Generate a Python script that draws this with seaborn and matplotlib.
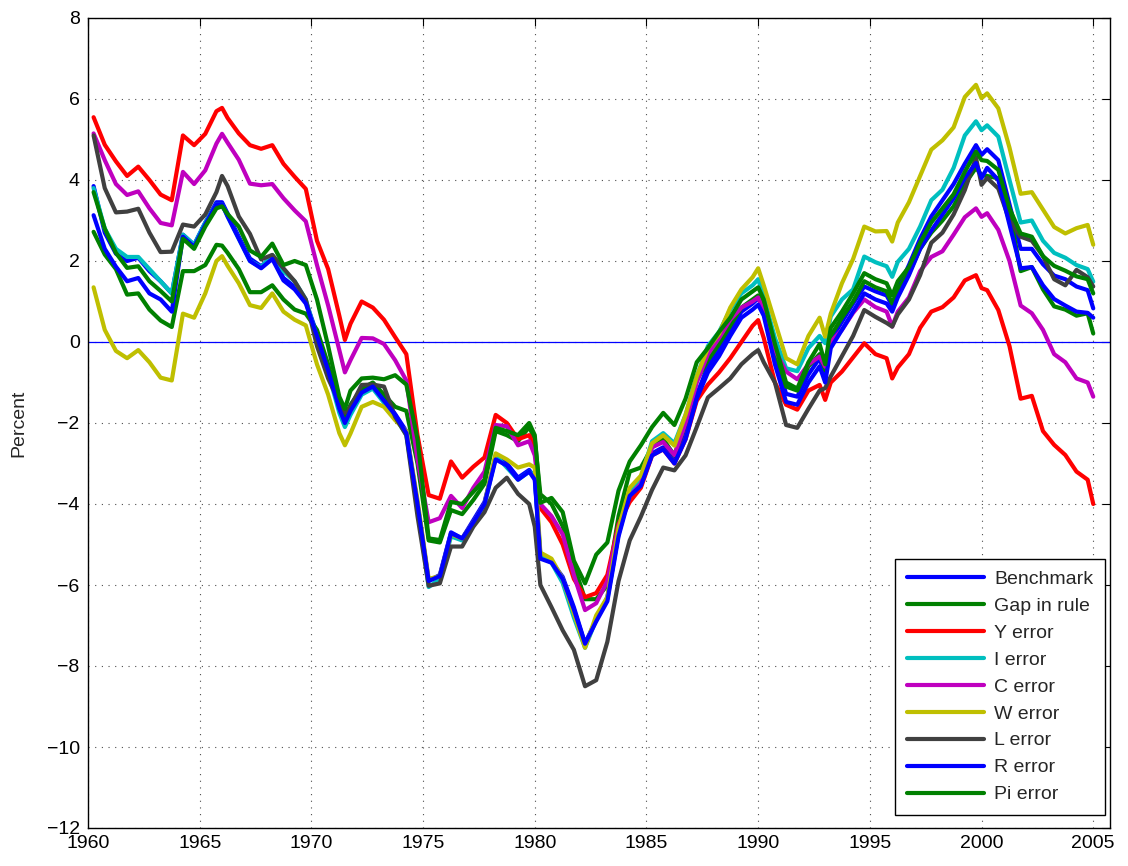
import numpy as np
import pandas as pd
import matplotlib
matplotlib.use("Agg")
import matplotlib.pyplot as plt
from matplotlib.lines import Line2D
import seaborn as sns

# Sample dates (quarterly-year fractions), by decade
YEARS_60S = [1960.25, 1960.75, 1961.25, 1961.75, 1962.25, 1962.75, 1963.25, 1963.75,
             1964.25, 1964.75, 1965.25, 1965.75, 1966.0, 1966.25, 1966.75, 1967.25,
             1967.75, 1968.25, 1968.75, 1969.25, 1969.75]
YEARS_70S = [1970.25, 1970.75, 1971.25, 1971.5, 1971.75, 1972.25, 1972.75, 1973.25,
             1973.75, 1974.25, 1974.75, 1975.25, 1975.75, 1976.25, 1976.75, 1977.25,
             1977.75, 1978.25, 1978.75, 1979.25, 1979.75]
YEARS_80S = [1980.0, 1980.25, 1980.75, 1981.25, 1981.75, 1982.25, 1982.75, 1983.25,
             1983.75, 1984.25, 1984.75, 1985.25, 1985.75, 1986.25, 1986.75, 1987.25,
             1987.75, 1988.25, 1988.75, 1989.25, 1989.75]
YEARS_90S = [1990.0, 1990.25, 1990.75, 1991.25, 1991.75, 1992.25, 1992.75, 1993.0,
             1993.25, 1993.75, 1994.25, 1994.75, 1995.25, 1995.75, 1996.0, 1996.25,
             1996.75, 1997.25, 1997.75, 1998.25, 1998.75, 1999.25, 1999.75]
YEARS_00S = [2000.0, 2000.25, 2000.75, 2001.25, 2001.75, 2002.25, 2002.75, 2003.25,
             2003.75, 2004.25, 2004.75, 2005.0]
YEARS = YEARS_60S + YEARS_70S + YEARS_80S + YEARS_90S + YEARS_00S

benchmark = [3.85, 2.7, 2.18, 2.0, 2.08, 1.75, 1.5, 1.2, 2.65, 2.4, 2.95, 3.45, 3.45, 3.17, 2.6, 2.06, 1.87, 2.1, 1.58, 1.36, 1.0,
             0.2, -0.65, -1.65, -2.0, -1.68, -1.2, -1.07, -1.4, -1.78, -2.2, -4.0, -5.9, -5.75, -4.7, -4.85, -4.4, -3.95, -2.85, -3.0, -3.35, -3.16,
             -3.35, -5.3, -5.42, -5.8, -6.55, -7.44, -6.86, -6.3, -4.75, -3.74, -3.5, -2.75, -2.6, -2.95, -2.3, -1.3, -0.6, -0.2, 0.3, 0.75, 0.95,
             1.08, 0.8, -0.35, -1.28, -1.35, -0.8, -0.4, -0.85, 0.05, 0.5, 0.95, 1.37, 1.25, 1.15, 0.9, 1.3, 1.9, 2.55, 3.1, 3.5, 3.9, 4.4, 4.86,
             4.62, 4.76, 4.49, 3.4, 2.3, 2.3, 1.92, 1.64, 1.55, 1.37, 1.28, 0.83]

gap_in_rule = [2.72, 2.16, 1.8, 1.17, 1.2, 0.8, 0.53, 0.37, 1.75, 1.75, 1.9, 2.4, 2.38, 2.2, 1.8, 1.23, 1.23, 1.4, 1.05, 0.8, 0.7,
               0.3, -0.55, -1.55, -1.9, -1.55, -1.15, -1.0, -1.3, -1.6, -1.7, -3.0, -4.9, -4.95, -4.15, -4.25, -3.9, -3.5, -2.2, -2.3, -2.45, -2.1,
               -2.4, -3.76, -4.0, -4.55, -5.5, -6.35, -6.35, -6.0, -4.3, -3.2, -3.1, -2.6, -2.4, -2.8, -2.0, -0.95, -0.45, -0.05, 0.4, 0.85, 1.05,
               1.15, 0.9, -0.2, -1.1, -1.2, -0.6, -0.3, -0.7, 0.15, 0.6, 1.0, 1.5, 1.35, 1.25, 0.95, 1.3, 1.7, 2.3, 2.7, 3.0, 3.35, 3.9, 4.3,
               4.12, 4.1, 4.04, 3.2, 1.75, 1.85, 1.3, 0.88, 0.8, 0.65, 0.71, 0.21]

y_error = [5.55, 4.87, 4.46, 4.1, 4.33, 4.0, 3.64, 3.5, 5.1, 4.86, 5.14, 5.7, 5.78, 5.53, 5.15, 4.86, 4.77, 4.86, 4.4, 4.08, 3.78,
           2.5, 1.8, 0.65, 0.05, 0.45, 1.0, 0.85, 0.55, 0.12, -0.3, -2.3, -3.78, -3.87, -2.95, -3.35, -3.08, -2.85, -1.8, -2.0, -2.4, -2.3,
           -2.6, -4.1, -4.45, -5.0, -5.85, -6.3, -6.2, -5.75, -4.5, -3.95, -3.6, -2.8, -2.65, -3.0, -2.4, -1.45, -1.05, -0.75, -0.4, 0.0, 0.4,
           0.54, 0.1, -1.0, -1.55, -1.67, -1.2, -1.06, -1.43, -1.0, -0.73, -0.38, -0.03, -0.3, -0.4, -0.9, -0.63, -0.3, 0.35, 0.75, 0.86, 1.1, 1.52, 1.65,
           1.33, 1.28, 0.79, -0.1, -1.4, -1.33, -2.2, -2.54, -2.79, -3.2, -3.4, -4.0]

i_error = [3.8, 2.8, 2.3, 2.1, 2.1, 1.8, 1.5, 1.2, 2.65, 2.4, 2.95, 3.4, 3.4, 3.1, 2.55, 2.0, 1.85, 2.15, 1.75, 1.5, 1.05,
           0.1, -0.75, -1.75, -2.1, -1.8, -1.3, -1.15, -1.5, -1.85, -2.3, -4.05, -6.05, -5.85, -4.8, -4.9, -4.5, -4.05, -2.8, -3.1, -3.4, -3.2,
           -3.3, -5.25, -5.45, -5.95, -6.8, -7.55, -6.85, -6.35, -4.7, -3.7, -3.35, -2.45, -2.25, -2.5, -1.8, -0.85, -0.1, 0.25, 0.8, 1.2, 1.4,
           1.55, 1.12, 0.1, -0.65, -0.72, -0.15, 0.15, -0.03, 0.63, 1.05, 1.3, 2.11, 1.97, 1.87, 1.61, 1.98, 2.3, 2.85, 3.5, 3.76, 4.3, 5.1, 5.45,
           5.23, 5.35, 5.07, 4.0, 2.95, 3.0, 2.5, 2.2, 2.08, 1.9, 1.8, 1.49]

c_error = [5.15, 4.49, 3.9, 3.63, 3.72, 3.3, 2.94, 2.88, 4.2, 3.9, 4.24, 4.9, 5.14, 4.92, 4.5, 3.91, 3.87, 3.9, 3.55, 3.25, 2.98,
           1.9, 0.9, -0.2, -0.75, -0.45, 0.1, 0.09, -0.05, -0.45, -0.95, -2.9, -4.45, -4.35, -3.8, -4.1, -3.6, -3.2, -2.05, -2.08, -2.55, -2.45,
           -2.8, -4.0, -4.3, -4.75, -5.75, -6.62, -6.45, -5.9, -4.55, -3.8, -3.5, -2.6, -2.47, -2.79, -2.0, -1.0, -0.3, 0.1, 0.55, 0.85, 1.0,
           1.1, 0.75, -0.2, -0.73, -0.92, -0.55, -0.36, -0.61, 0.0, 0.3, 0.72, 1.05, 0.86, 0.75, 0.38, 0.75, 1.1, 1.75, 2.1, 2.24, 2.65, 3.08, 3.3,
           3.09, 3.18, 2.77, 2.0, 0.9, 0.71, 0.3, -0.3, -0.5, -0.9, -1.0, -1.35]

w_error = [1.35, 0.3, -0.22, -0.4, -0.2, -0.5, -0.88, -0.95, 0.7, 0.6, 1.2, 2.0, 2.12, 1.88, 1.45, 0.91, 0.84, 1.2, 0.75, 0.55, 0.41,
           -0.55, -1.3, -2.25, -2.55, -2.26, -1.6, -1.48, -1.6, -1.93, -2.2, -3.9, -5.85, -5.78, -4.75, -4.85, -4.45, -4.0, -2.75, -2.9, -3.1, -3.02,
           -3.1, -5.2, -5.35, -5.85, -6.7, -7.55, -6.75, -6.3, -4.6, -3.6, -3.3, -2.5, -2.3, -2.56, -1.8, -0.85, -0.15, 0.2, 0.85, 1.3, 1.6,
           1.82, 1.4, 0.5, -0.4, -0.55, 0.15, 0.6, 0.13, 0.7, 1.45, 2.05, 2.85, 2.73, 2.74, 2.48, 2.95, 3.45, 4.1, 4.75, 4.98, 5.3, 6.05, 6.35,
           6.02, 6.14, 5.77, 4.8, 3.66, 3.7, 3.27, 2.84, 2.68, 2.81, 2.89, 2.4]

l_error = [5.1, 3.8, 3.2, 3.22, 3.29, 2.7, 2.22, 2.23, 2.9, 2.85, 3.15, 3.7, 4.1, 3.85, 3.1, 2.67, 2.04, 2.15, 1.82, 1.5, 1.05,
           -0.1, -0.9, -1.5, -1.75, -1.6, -1.06, -1.05, -1.1, -1.85, -2.3, -4.3, -6.02, -5.96, -5.05, -5.05, -4.56, -4.2, -3.6, -3.35, -3.75, -4.0,
           -4.56, -6.0, -6.55, -7.12, -7.6, -8.5, -8.35, -7.4, -5.9, -4.9, -4.31, -3.65, -3.1, -3.17, -2.8, -2.1, -1.37, -1.14, -0.9, -0.55, -0.3,
           -0.2, -0.5, -1.0, -2.05, -2.12, -1.65, -1.2, -1.14, -0.85, -0.35, 0.15, 0.79, 0.62, 0.47, 0.38, 0.68, 1.05, 1.65, 2.45, 2.7, 3.15, 3.75, 4.55,
           3.88, 4.05, 3.79, 3.0, 2.6, 2.5, 2.12, 1.55, 1.4, 1.78, 1.6, 1.37]

r_error = [3.13, 2.3, 1.86, 1.5, 1.58, 1.2, 1.05, 0.75, 2.6, 2.35, 2.9, 3.4, 3.4, 3.1, 2.55, 2.0, 1.82, 2.05, 1.52, 1.3, 0.95,
           0.15, -0.7, -1.65, -2.0, -1.7, -1.25, -1.1, -1.45, -1.8, -2.25, -4.0, -5.9, -5.78, -4.72, -4.85, -4.45, -4.0, -2.9, -3.05, -3.4, -3.2,
           -3.4, -5.35, -5.45, -5.85, -6.6, -7.45, -6.9, -6.4, -4.8, -3.8, -3.55, -2.8, -2.65, -3.0, -2.4, -1.4, -0.75, -0.35, 0.15, 0.6, 0.8,
           0.92, 0.65, -0.55, -1.48, -1.55, -1.0, -0.6, -1.0, -0.15, 0.3, 0.75, 1.2, 1.05, 0.95, 0.75, 1.1, 1.65, 2.3, 2.75, 3.15, 3.55, 4.05, 4.42,
           4.05, 4.3, 4.0, 2.9, 1.82, 1.85, 1.4, 1.06, 0.9, 0.75, 0.72, 0.6]

pi_error = [3.7, 2.8, 2.2, 1.83, 1.87, 1.5, 1.26, 1.0, 2.55, 2.3, 2.85, 3.3, 3.35, 3.16, 2.85, 2.26, 2.1, 2.43, 1.9, 2.0, 1.9,
            1.05, -0.1, -1.35, -1.65, -1.2, -0.9, -0.88, -0.92, -0.82, -1.05, -2.4, -4.85, -4.89, -3.95, -4.0, -3.7, -3.4, -2.12, -2.2, -2.3, -2.0,
            -2.3, -3.97, -3.85, -4.2, -5.4, -5.96, -5.25, -4.95, -3.67, -2.95, -2.55, -2.1, -1.75, -2.05, -1.4, -0.5, -0.15, 0.25, 0.6, 1.05, 1.25,
            1.35, 1.05, -0.05, -1.0, -1.15, -0.5, -0.05, -0.55, 0.35, 0.75, 1.2, 1.7, 1.55, 1.45, 1.15, 1.5, 1.85, 2.45, 2.95, 3.3, 3.65, 4.2, 4.7,
            4.49, 4.47, 4.25, 3.3, 2.68, 2.6, 2.12, 1.88, 1.76, 1.62, 1.55, 1.2]

SERIES_NAMES = ["Benchmark", "Gap in rule", "Y error", "I error", "C error",
                "W error", "L error", "R error", "Pi error"]
SERIES_VALUES = [benchmark, gap_in_rule, y_error, i_error, c_error,
                 w_error, l_error, r_error, pi_error]
SERIES_COLORS = ["#0000ff", "#008000", "#ff0000", "#00bfbf", "#bf00bf",
                 "#bfbf00", "#404040", "#0000ff", "#008000"]

# Long-form table for seaborn
frames = []
for name, vals in zip(SERIES_NAMES, SERIES_VALUES):
    assert len(vals) == len(YEARS), name
    frames.append(pd.DataFrame({"year": YEARS, "value": vals, "series": name}))
df = pd.concat(frames, ignore_index=True)

sns.set_style("white")
plt.rcParams["font.family"] = ["Liberation Sans", "DejaVu Sans"]
plt.rcParams["axes.unicode_minus"] = True

fig = plt.figure(figsize=(11.28, 8.66), dpi=100)
ax = fig.add_axes([88 / 1128, 38 / 866, (1110 - 88) / 1128, (828 - 18) / 866])

ax.axhline(0, color="#0000ff", lw=0.9, zorder=1)

palette = dict(zip(SERIES_NAMES, SERIES_COLORS))
for name in SERIES_NAMES:
    sns.lineplot(data=df[df["series"] == name], x="year", y="value",
                 color=palette[name], lw=3.0, ax=ax, legend=False,
                 errorbar=None, sort=True, zorder=2)

ax.set_xlim(1960, 2005.75)
ax.set_ylim(-12, 8)
ax.set_xticks(np.arange(1960, 2006, 5))
ax.set_yticks(np.arange(-12, 9, 2))
ax.set_xlabel("")
ax.set_ylabel("Percent", fontsize=14, labelpad=14)
ax.tick_params(axis="both", which="major", direction="in", length=6, width=0.8,
               labelsize=14, top=True, right=True, colors="black")
ax.tick_params(axis="x", pad=5)
ax.tick_params(axis="y", pad=6)
ax.grid(True, linestyle=(0, (1, 5)), color="0.3", lw=0.8)
for spine in ax.spines.values():
    spine.set_visible(True)
    spine.set_color("black")
    spine.set_linewidth(1.0)

handles = [Line2D([0], [0], color=c, lw=3.0) for c in SERIES_COLORS]
leg = ax.legend(handles, SERIES_NAMES, loc="lower right",
                bbox_to_anchor=(0.995, 0.016), fontsize=14,
                handlelength=4.0, handletextpad=0.5, labelspacing=0.48,
                borderpad=0.6, borderaxespad=0.0, frameon=True, fancybox=False)
leg.get_frame().set_edgecolor("black")
leg.get_frame().set_linewidth(1.0)
leg.get_frame().set_alpha(1.0)

fig.savefig("out.png", dpi=100)
